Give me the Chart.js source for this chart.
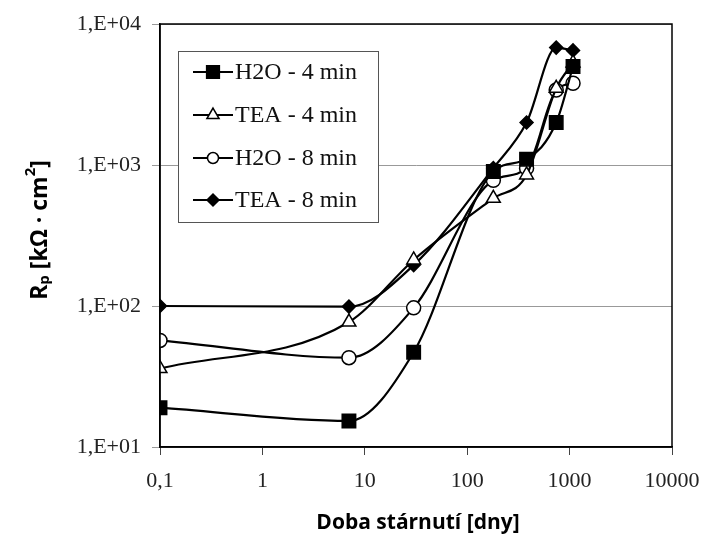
<!DOCTYPE html>
<html lang="cs">
<head>
    <meta charset="UTF-8">
    <title>Rp - doba stárnutí</title>
    <script src="https://cdn.jsdelivr.net/npm/chart.js"></script>
    <style>
        html, body {
            margin: 0;
            padding: 0;
            background: #fff;
        }
        #wrap {
            width: 705px;
            height: 547px;
        }
    </style>
</head>
<body>
    <div id="wrap"><canvas id="rpChart" width="705" height="547"></canvas></div>

    <script>
        // aging time [days]
        const days = [0.1, 7, 30, 180, 380, 740, 1080];

        // Rp values [kOhm.cm2]
        const h2o4 = [19, 15.3, 47, 900, 1100, 2000, 5000];
        const tea4 = [36, 77, 212, 580, 850, 3500, 5300];
        const h2o8 = [57, 43, 97, 780, 950, 3400, 3800];
        const tea8 = [100, 99, 195, 950, 2000, 6800, 6500];

        const seriesLabels = ['H2O - 4 min', 'TEA - 4 min', 'H2O - 8 min', 'TEA - 8 min'];

        const xTicks = [0.1, 1, 10, 100, 1000, 10000];
        const xTickLabels = ['0,1', '1', '10', '100', '1000', '10000'];
        const yTicks = [10, 100, 1000, 10000];
        const yTickLabels = ['1,E+01', '1,E+02', '1,E+03', '1,E+04'];

        const serif = '"Liberation Serif", "Times New Roman", Times, serif';
        const bold = '"Open Sans", sans-serif';

        function toPoints(vals) {
            return days.map((d, i) => ({ x: d, y: vals[i] }));
        }

        function series(label, vals, style, radius, fill) {
            return {
                label: label,
                data: toPoints(vals),
                borderColor: '#000',
                borderWidth: 2.2,
                cubicInterpolationMode: 'monotone',
                pointStyle: style,
                pointRadius: radius,
                pointBackgroundColor: fill,
                pointBorderColor: '#000',
                pointBorderWidth: 1.5,
                fill: false
            };
        }

        // legend marker sizes are a bit smaller than on the curves
        const legendMarks = [
            { style: 'rect', r: 9, fill: '#000' },
            { style: 'triangle', r: 7, fill: '#fff' },
            { style: 'circle', r: 5.5, fill: '#fff' },
            { style: 'rectRot', r: 6, fill: '#000' }
        ];

        const framePlugin = {
            id: 'frame',
            afterDatasetsDraw(chart) {
                const ctx = chart.ctx;
                const a = chart.chartArea;
                ctx.save();

                // plot frame
                ctx.strokeStyle = '#000';
                ctx.lineWidth = 1.5;
                ctx.strokeRect(a.left, a.top, a.right - a.left, a.bottom - a.top);

                // legend box
                const bx = 178, by = 51, bw = 200, bh = 171;
                ctx.fillStyle = '#fff';
                ctx.fillRect(bx, by, bw, bh);
                ctx.strokeStyle = '#555';
                ctx.lineWidth = 1;
                ctx.strokeRect(bx + 0.5, by + 0.5, bw, bh);

                const rowY = [72, 115, 158, 200];
                chart.data.datasets.forEach((ds, i) => {
                    const y = rowY[i];
                    ctx.strokeStyle = '#000';
                    ctx.lineWidth = 2;
                    ctx.beginPath();
                    ctx.moveTo(193, y);
                    ctx.lineTo(233, y);
                    ctx.stroke();

                    const m = legendMarks[i];
                    ctx.fillStyle = m.fill;
                    ctx.strokeStyle = '#000';
                    ctx.lineWidth = 1.5;
                    Chart.helpers.drawPoint(ctx, {
                        pointStyle: m.style,
                        radius: m.r,
                        rotation: 0,
                        borderWidth: 1.5
                    }, 213, y);

                    ctx.fillStyle = '#111';
                    ctx.font = '24px ' + serif;
                    ctx.textAlign = 'left';
                    ctx.textBaseline = 'middle';
                    ctx.fillText(ds.label, 235, y + 1);
                });

                // x axis title
                ctx.fillStyle = '#000';
                ctx.font = 'bold 21px ' + bold;
                ctx.textAlign = 'center';
                ctx.textBaseline = 'middle';
                ctx.fillText('Doba stárnutí [dny]', 418, 523);

                // y axis title with sub/superscript
                const parts = [
                    { t: 'R', size: 23, dy: 0 },
                    { t: 'p', size: 15, dy: 5 },
                    { t: ' [kΩ · cm', size: 23, dy: 0 },
                    { t: '2', size: 15, dy: -9 },
                    { t: ']', size: 23, dy: 0 }
                ];
                let total = 0;
                parts.forEach(p => {
                    ctx.font = 'bold ' + p.size + 'px ' + bold;
                    p.w = ctx.measureText(p.t).width;
                    total += p.w;
                });
                ctx.translate(40, 230);
                ctx.rotate(-Math.PI / 2);
                ctx.textAlign = 'left';
                let x = -total / 2;
                parts.forEach(p => {
                    ctx.font = 'bold ' + p.size + 'px ' + bold;
                    ctx.fillText(p.t, x, p.dy);
                    x += p.w;
                });

                ctx.restore();
            }
        };

        const ctx = document.getElementById('rpChart').getContext('2d');

        new Chart(ctx, {
            type: 'line',
            data: {
                datasets: [
                    series(seriesLabels[0], h2o4, 'rect', 9.5, '#000'),
                    series(seriesLabels[1], tea4, 'triangle', 8, '#fff'),
                    series(seriesLabels[2], h2o8, 'circle', 7, '#fff'),
                    series(seriesLabels[3], tea8, 'rectRot', 6.5, '#000')
                ]
            },
            options: {
                responsive: false,
                animation: false,
                layout: {
                    padding: { left: 0, top: 24, right: 33, bottom: 0 }
                },
                plugins: {
                    legend: { display: false },
                    tooltip: { enabled: false }
                },
                scales: {
                    x: {
                        type: 'logarithmic',
                        min: 0.1,
                        max: 10000,
                        afterBuildTicks: s => { s.ticks = xTicks.map(v => ({ value: v })); },
                        afterFit: s => {
                            s.height = 100;
                            s.paddingLeft = 0;
                            s.paddingRight = 0;
                        },
                        ticks: {
                            autoSkip: false,
                            maxRotation: 0,
                            padding: 13,
                            color: '#222',
                            font: { family: serif, size: 22 },
                            callback: (v, i) => xTickLabels[i]
                        },
                        grid: {
                            drawOnChartArea: false,
                            tickLength: 8,
                            color: '#444'
                        },
                        border: { color: '#000', width: 1.5 }
                    },
                    y: {
                        type: 'logarithmic',
                        min: 10,
                        max: 10000,
                        afterBuildTicks: s => { s.ticks = yTicks.map(v => ({ value: v })); },
                        afterFit: s => {
                            s.width = 160;
                            s.paddingTop = 0;
                            s.paddingBottom = 0;
                        },
                        ticks: {
                            padding: 11,
                            color: '#222',
                            font: { family: serif, size: 22 },
                            callback: (v, i) => yTickLabels[i]
                        },
                        grid: {
                            color: '#999',
                            tickLength: 8
                        },
                        border: { color: '#000', width: 1.5 }
                    }
                }
            },
            plugins: [framePlugin]
        });
    </script>
</body>
</html>
